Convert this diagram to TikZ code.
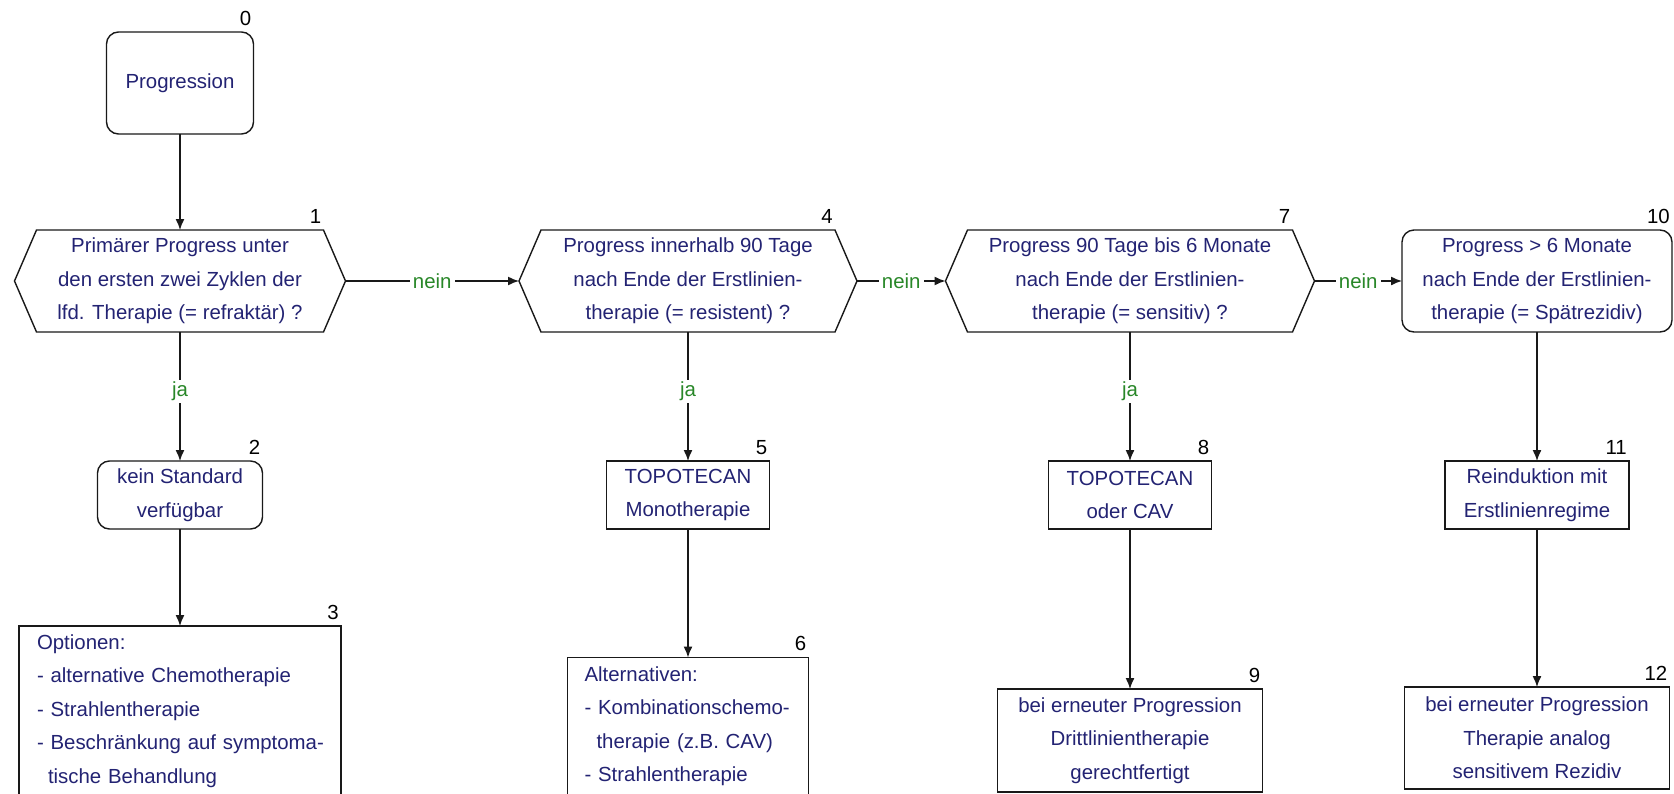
\documentclass[tikz,border=0pt]{standalone}
\usepackage{fontspec}
\setmainfont{Liberation Sans}
\usetikzlibrary{arrows.meta}
\definecolor{txtblue}{RGB}{35,35,115}
\definecolor{jagreen}{RGB}{40,135,40}
\definecolor{edge}{RGB}{25,25,25}
\newcommand{\hexdraw}[1]{\draw[draw=edge,line width=1.4pt] (#1.west) -- ([xshift=22pt]#1.north west) -- ([xshift=-22pt]#1.north east) -- (#1.east) -- ([xshift=-22pt]#1.south east) -- ([xshift=22pt]#1.south west) -- cycle;}
\begin{document}
\begin{tikzpicture}[x=1pt,y=-1pt,
  every node/.style={font=\fontsize{20.4}{33.5}\selectfont},
  box/.style={draw=edge, line width=1.4pt, rectangle, inner sep=0pt, outer sep=0pt, text=txtblue, align=center},
  rbox/.style={box, rounded corners=12pt},
  hexnode/.style={rectangle, inner sep=0pt, outer sep=0pt, text=txtblue, align=center, minimum height=102pt},
  numlbl/.style={anchor=base east, inner sep=0pt, text=black},
  cond/.style={fill=white, text=jagreen, inner xsep=3pt, inner ysep=2pt},
  conn/.style={draw=edge, line width=1.4pt, -{Latex[length=11pt,width=9pt]}},
]
\useasboundingbox (0,0) rectangle (1674,793);
\clip (0,0) rectangle (1674,793);
\fill[white] (0,0) rectangle (1674,793);

% column 1
\node[rbox, minimum width=147pt, minimum height=102pt] (n0) at (180,83) {Progression};
\node[hexnode, minimum width=331pt] (n1) at (180,281) {Primärer Progress unter\\den ersten zwei Zyklen der\\lfd. Therapie (= refraktär) ?};
\node[rbox, minimum width=165pt, minimum height=68pt] (n2) at (180,495) {kein Standard\\verfügbar};
\node[box, minimum width=322pt, minimum height=170pt, text width=286pt, align=left] (n3) at (180,711) {\mbox{Optionen:}\\\mbox{- alternative Chemotherapie}\\\mbox{- Strahlentherapie}\\\mbox{- Beschränkung auf symptoma-}\\\mbox{\hspace*{11pt}tische Behandlung}};

% column 2
\node[hexnode, minimum width=338pt] (n4) at (688,281) {Progress innerhalb 90 Tage\\nach Ende der Erstlinien-\\therapie (= resistent) ?};
\node[box, minimum width=163pt, minimum height=68pt] (n5) at (688,495) {TOPOTECAN\\Monotherapie};
\node[box, minimum width=241pt, minimum height=137pt, text width=207pt, align=left] (n6) at (688,726) {\mbox{Alternativen:}\\\mbox{- Kombinationschemo-}\\\mbox{\hspace*{12pt}therapie (z.B. CAV)}\\\mbox{- Strahlentherapie}};

% column 3
\node[hexnode, minimum width=369pt] (n7) at (1130,281) {Progress 90 Tage bis 6 Monate\\nach Ende der Erstlinien-\\therapie (= sensitiv) ?};
\node[box, minimum width=163pt, minimum height=68pt] (n8) at (1130,495) {TOPOTECAN\\oder CAV};
\node[box, minimum width=265pt, minimum height=103pt] (n9) at (1130,740.5) {bei erneuter Progression\\Drittlinientherapie\\gerechtfertigt};

% column 4
\node[rbox, minimum width=270pt, minimum height=102pt] (n10) at (1537,281) {Progress > 6 Monate\\nach Ende der Erstlinien-\\therapie (= Spätrezidiv)};
\node[box, minimum width=184pt, minimum height=68pt] (n11) at (1537,495) {Reinduktion mit\\Erstlinienregime};
\node[box, minimum width=265pt, minimum height=102pt] (n12) at (1537,738) {bei erneuter Progression\\Therapie analog\\sensitivem Rezidiv};

% hexagon outlines
\hexdraw{n1}
\hexdraw{n4}
\hexdraw{n7}

% number labels
\node[numlbl] (l0) at ([xshift=-2pt,yshift=7pt]n0.north east) {0};
\node[numlbl] (l1) at ([xshift=-24pt,yshift=7pt]n1.north east) {1};
\node[numlbl] (l2) at ([xshift=-2pt,yshift=7pt]n2.north east) {2};
\node[numlbl] (l3) at ([xshift=-2pt,yshift=7pt]n3.north east) {3};
\node[numlbl] (l4) at ([xshift=-24pt,yshift=7pt]n4.north east) {4};
\node[numlbl] (l5) at ([xshift=-2pt,yshift=7pt]n5.north east) {5};
\node[numlbl] (l6) at ([xshift=-2pt,yshift=7pt]n6.north east) {6};
\node[numlbl] (l7) at ([xshift=-24pt,yshift=7pt]n7.north east) {7};
\node[numlbl] (l8) at ([xshift=-2pt,yshift=7pt]n8.north east) {8};
\node[numlbl] (l9) at ([xshift=-2pt,yshift=7pt]n9.north east) {9};
\node[numlbl] (l10) at ([xshift=-2pt,yshift=7pt]n10.north east) {10};
\node[numlbl] (l11) at ([xshift=-2pt,yshift=7pt]n11.north east) {11};
\node[numlbl] (l12) at ([xshift=-2pt,yshift=7pt]n12.north east) {12};

% connectors
\draw[conn] (n0) -- (n1);
\draw[conn] (n1) -- node[cond, pos=0.46] {ja} (n2);
\draw[conn] (n2) -- (n3);
\draw[conn] (n1) -- node[cond] {nein} (n4);
\draw[conn] (n4) -- node[cond, pos=0.46] {ja} (n5);
\draw[conn] (n5) -- (n6);
\draw[conn] (n4) -- node[cond] {nein} (n7);
\draw[conn] (n7) -- node[cond, pos=0.46] {ja} (n8);
\draw[conn] (n8) -- (n9);
\draw[conn] (n7) -- node[cond] {nein} (n10);
\draw[conn] (n10) -- (n11);
\draw[conn] (n11) -- (n12);
\end{tikzpicture}
\end{document}
